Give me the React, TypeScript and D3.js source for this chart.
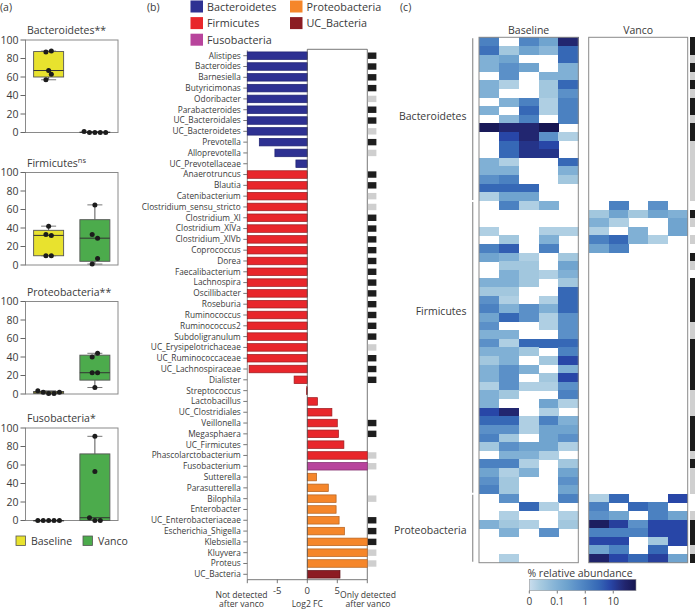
import React, { useEffect } from 'react';
import * as d3 from 'd3';

const FONT = "'Open Sans', 'DejaVu Sans', sans-serif";
const TXT = '#3a3a3a';

// ---------- Panel (a) data ----------
const BOX_PHYLA = ['Bacteroidetes', 'Firmicutes', 'Proteobacteria', 'Fusobacteria'];
const BOX_SIG = ['**', 'ns', '**', '*'];
const GROUPS_A = ['Baseline', 'Vanco'];
const BASELINE_PCT = [[87, 88, 67, 63, 57], [42, 33, 32, 10, 10], [3.5, 2, 0.5, 0.5, 2], [0, 0, 0, 0, 0]];
const VANCO_PCT = [[1, 0, 0, 0, 0], [65, 33, 29, 7, 1], [44, 40, 23, 23, 7], [91, 53, 3, 0, 0]];
const BASELINE_JITTER = [[-0.5, 0.5, 0, 0.5, -0.5], [0, -0.5, 0.5, -0.5, 0.5], [-2, -1, 0, 1, 2], [-2, -1, 0, 1, 2]];
const VANCO_JITTER = [[-2, -1, 0, 1, 2], [0, -0.5, 0.5, 0.5, -0.5], [0.5, -0.5, -0.5, 0.5, 0], [0, 0, -1, 0, 1]];
const Y_TICKS_A = [0, 20, 40, 60, 80, 100];
const GROUP_COLORS = ['#e8e22e', '#4cab4c'];

// ---------- Panel (b) data ----------
const GENERA = ['Alistipes', 'Bacteroides', 'Barnesiella', 'Butyricimonas', 'Odoribacter', 'Parabacteroides',
  'UC_Bacteroidales', 'UC_Bacteroidetes', 'Prevotella', 'Alloprevotella', 'UC_Prevotellaceae',
  'Anaerotruncus', 'Blautia', 'Catenibacterium', 'Clostridium_sensu_stricto', 'Clostridium_XI',
  'Clostridium_XIVa', 'Clostridium_XIVb', 'Coprococcus', 'Dorea', 'Faecalibacterium', 'Lachnospira',
  'Oscillibacter', 'Roseburia', 'Ruminococcus', 'Ruminococcus2', 'Subdoligranulum',
  'UC_Erysipelotrichaceae', 'UC_Ruminococcaceae', 'UC_Lachnospiraceae', 'Dialister', 'Streptococcus',
  'Lactobacillus', 'UC_Clostridiales', 'Veillonella', 'Megasphaera', 'UC_Firmicutes',
  'Phascolarctobacterium', 'Fusobacterium', 'Sutterella', 'Parasutterella', 'Bilophila', 'Enterobacter',
  'UC_Enterobacteriaceae', 'Escherichia_Shigella', 'Klebsiella', 'Kluyvera', 'Proteus', 'UC_Bacteria'];
const LOG2FC = [-10, -10, -10, -10, -10, -10, -10, -10, -8, -5.4, -1.9,
  -10, -10, -10, -10, -10, -10, -10, -10, -10, -10, -10, -10, -10, -10, -10, -10, -10, -10, -9.7, -2.2, -0.15,
  1.7, 4.1, 5.0, 5.2, 6.1, 10, 10, 1.55, 3.5, 4.8, 4.8, 5.3, 6.2, 10, 10, 10, 5.45];
const PHYLUM_SIZES: [string, number][] = [['Bacteroidetes', 11], ['Firmicutes', 27], ['Fusobacteria', 1], ['Proteobacteria', 9], ['UC_Bacteria', 1]];
const DETECT_FLAGS = 'bbbbgbbgbg-bbggbbbbbbbbbbbbgbbb---bb-gg--g-bbbgg-'.split('');
const PHYLUM_LEGEND = ['Bacteroidetes', 'Firmicutes', 'Fusobacteria', 'Proteobacteria', 'UC_Bacteria'];
const PHYLUM_FILL: Record<string, string> = {
  Bacteroidetes: '#2e3192', Firmicutes: '#e8262b', Fusobacteria: '#b8449c', Proteobacteria: '#f5862a', UC_Bacteria: '#8c1c22',
};
const PHYLUM_STROKE: Record<string, string> = {
  Bacteroidetes: '#1f2270', Firmicutes: '#9a1a1e', Fusobacteria: '#7e2a6a', Proteobacteria: '#b2601e', UC_Bacteria: '#5c1014',
};
const X_TICKS_B = [-10, -5, 0, 5, 10];
const X_LABELS_B = ['-5', '0', '5'];

// ---------- Panel (c) data ----------
const HEAT_COLS = ['1', '2', '3', '4', '5'];
const HEAT_GROUPS: [string, number][] = [['Bacteroidetes', 19], ['Firmicutes', 34], ['Proteobacteria', 8]];
const HEAT_BASELINE = [
  [1, 0, 0.8, 0.2, 25], [2, 0.03, 0.2, 0.07, 3], [0.1, 0.2, 0, 0, 3], [0.1, 0.5, 0.2, 0, 0.1],
  [0, 0.5, 0, 0.1, 0.1], [0.1, 0.02, 0, 0.03, 3], [0.1, 0, 0, 0.03, 0.5], [0, 0.1, 1, 0.02, 1],
  [0.1, 0, 3, 0.02, 1], [0, 0.07, 1, 0, 1], [50, 25, 25, 60, 0], [0, 8, 25, 0.5, 0.02],
  [0, 3, 15, 8, 0], [0, 3, 15, 15, 0], [0.1, 0.02, 0, 0, 3], [0.1, 0.1, 0, 0, 0.1],
  [0.5, 1, 0, 0, 0.03], [3, 3, 3, 0, 0], [0.02, 0.2, 0.2, 0, 0],
  [0, 1, 0.02, 0.1, 0], [0, 0, 0, 0, 0], [0, 0, 0, 0, 0], [0.02, 0, 0, 0.02, 0.02],
  [0, 0.03, 0, 0.1, 0], [1, 4, 0, 1, 0], [0.2, 0.1, 0.02, 0, 0.03], [0, 0.03, 0.03, 0, 0.2],
  [0, 0.1, 0.03, 0.02, 0.1], [0.1, 0.1, 0.03, 0, 0.03], [0.03, 0.03, 0, 0, 3], [0.5, 0.02, 0, 0.02, 3],
  [1, 0.1, 0.5, 0.1, 3], [0.2, 3, 0.5, 0.02, 0.5], [0.5, 0, 0, 0.02, 0.5], [0.1, 0.1, 0, 0, 0.5],
  [0.5, 0.02, 3, 3, 3], [0.1, 0.1, 0.03, 0, 1], [0.03, 0.1, 0, 0.03, 8], [0.1, 0.5, 0.1, 0, 0.1],
  [0.1, 0.5, 0, 0.03, 8], [0.02, 0.5, 0.02, 0.02, 0.5], [0.1, 0.03, 0, 0, 1], [0.1, 0, 0, 0.2, 0.02],
  [8, 25, 0, 0.02, 0], [3, 3, 0.02, 1, 0.1], [0.5, 0.5, 0.02, 0.2, 0.2], [1, 0.03, 0, 0.2, 0.5],
  [0.03, 0.5, 0.2, 0.2, 0.02], [0, 0.1, 0.1, 0.02, 0], [1, 1, 0.02, 0, 0.03], [0.2, 0.02, 0.1, 0, 0.2],
  [0.5, 0.03, 0, 0, 0.5], [1, 0.03, 0, 0, 0.2],
  [0, 0.5, 0, 0, 1], [0, 0, 3, 0.02, 0], [0, 0.02, 0, 0, 0.02], [0.1, 0.03, 0.02, 0, 0.03],
  [0, 0.1, 0, 0.5, 0], [0, 0, 0, 0, 0], [0, 0, 0, 0, 0], [0, 0.02, 0, 0, 0],
];
const HEAT_VANCO = [
  [0, 0, 0, 0, 0], [0, 0, 0, 0, 0], [0, 0, 0, 0, 0], [0, 0, 0, 0, 0], [0, 0, 0, 0, 0],
  [0, 0, 0, 0, 0], [0, 0, 0, 0, 0], [0, 0, 0, 0, 0], [0, 0, 0, 0, 0], [0, 0, 0, 0, 0],
  [0, 0, 0, 0, 0], [0, 0, 0, 0, 0], [0, 0, 0, 0, 0], [0, 0, 0, 0, 0], [0, 0, 0, 0, 0],
  [0, 0, 0, 0, 0], [0, 0, 0, 0, 0], [0, 0, 0, 0, 0], [0, 0, 0, 0, 0],
  [0, 1, 0, 0.5, 0], [0.03, 0.2, 0.03, 0.2, 0.1], [0.1, 0.02, 0, 0, 0.2], [0.02, 0, 0.1, 0, 0.2],
  [1, 3, 0.1, 0.02, 0], [0.2, 1, 0, 0, 0],
  [0, 0, 0, 0, 0], [0, 0, 0, 0, 0], [0, 0, 0, 0, 0], [0, 0, 0, 0, 0], [0, 0, 0, 0, 0],
  [0, 0, 0, 0, 0], [0, 0, 0, 0, 0], [0, 0, 0, 0, 0], [0, 0, 0, 0, 0], [0, 0, 0, 0, 0],
  [0, 0, 0, 0, 0], [0, 0, 0, 0, 0], [0, 0, 0, 0, 0], [0, 0, 0, 0, 0], [0, 0, 0, 0, 0],
  [0, 0, 0, 0, 0], [0, 0, 0, 0, 0], [0, 0, 0, 0, 0], [0, 0, 0, 0, 0], [0, 0, 0, 0, 0],
  [0, 0, 0, 0, 0], [0, 0, 0, 0, 0], [0, 0, 0, 0, 0], [0, 0, 0, 0, 0], [0, 0, 0, 0, 0],
  [0, 0, 0, 0, 0], [0, 0, 0, 0, 0], [0, 0, 0, 0, 0],
  [0.02, 3, 0, 0, 8], [1, 0, 3, 1, 0], [0.5, 0.2, 0, 1, 0.2], [40, 10, 0.5, 8, 8],
  [1, 1, 1, 8, 8], [8, 8, 0, 0.03, 8], [0.2, 1, 0, 3, 0], [30, 8, 3, 10, 0.2],
];
const HEAT_FLAGS = ('bbgbgbgbbgbb' + 'ggggggg' + '-bg-g-bg-' + 'bbbbb' + 'gg' + 'bbbbbb' + 'ggg' + 'bbbb' + 'g' + 'b' + 'ggg' + '--' + 'g' + 'bbb' + 'g' + 'b').split('');
const CBAR_TICKS = [0.01, 0.1, 1, 10];
const CBAR_LABELS = ['0', '0.1', '1', '10'];

// colour scale for abundance
const logT = d3.scaleLog().domain([0.01, 65]).range([0, 1]).clamp(true);
const ramp = d3.scaleLinear<string>()
  .domain([0, 0.1, 0.26, 0.35, 0.45, 0.53, 0.65, 0.76, 0.89, 1])
  .range(['#c9dded', '#a8cbe0', '#80b0d5', '#6ea3ce', '#5a8fc8', '#4a80c0', '#3668b6', '#2846a8', '#222670', '#151550'])
  .interpolate(d3.interpolateRgb);
const heatColor = (v: number) => ramp(logT(v));

function prismQuantile(vals: number[], p: number) {
  const s = [...vals].sort((a, b) => a - b);
  const n = s.length;
  let pos = (n + 1) * p;
  pos = Math.max(1, Math.min(n, pos));
  const lo = Math.floor(pos), hi = Math.ceil(pos);
  return s[lo - 1] + (pos - lo) * (s[hi - 1] - s[lo - 1]);
}

function BoxPanel({ idx, top }: { idx: number; top: number }) {
  const left = 25.5, right = 118, h = 92.5;
  const x = d3.scalePoint<string>().domain(GROUPS_A).range([left, right]).padding(0.5);
  const y = d3.scaleLinear().domain([0, 100]).range([top + h, top]);
  const series = [BASELINE_PCT[idx], VANCO_PCT[idx]];
  const jit = [BASELINE_JITTER[idx], VANCO_JITTER[idx]];
  const boxHalf = 15, capHalf = 7.5, dotStep = 5.4;
  return (
    <g>
      <text x={left + 1.5} y={top - 6} fontSize={10.5} fill={TXT}>
        {BOX_PHYLA[idx]}
        {BOX_SIG[idx] === 'ns'
          ? <tspan dy={-4} fontSize={7.5}>ns</tspan>
          : BOX_SIG[idx]}
      </text>
      <rect x={left} y={top} width={right - left} height={h} fill="none" stroke="#8a8a8a" strokeWidth={1} />
      {Y_TICKS_A.map(t => (
        <g key={t}>
          <line x1={left - 5} x2={left} y1={y(t)} y2={y(t)} stroke="#666" />
          <text x={left - 7} y={y(t)} dy="0.35em" textAnchor="end" fontSize={10.5} fill={TXT}>{t}</text>
        </g>
      ))}
      {series.map((vals, gi) => {
        const cx = x(GROUPS_A[gi])!;
        const q1 = prismQuantile(vals, 0.25), med = prismQuantile(vals, 0.5), q3 = prismQuantile(vals, 0.75);
        const mn = d3.min(vals)!, mx = d3.max(vals)!;
        return (
          <g key={gi}>
            <line x1={cx} x2={cx} y1={y(mx)} y2={y(q3)} stroke="#555" />
            <line x1={cx} x2={cx} y1={y(q1)} y2={y(mn)} stroke="#555" />
            <line x1={cx - capHalf} x2={cx + capHalf} y1={y(mx)} y2={y(mx)} stroke="#777" />
            <line x1={cx - capHalf} x2={cx + capHalf} y1={y(mn)} y2={y(mn)} stroke="#777" />
            <rect x={cx - boxHalf} y={y(q3)} width={boxHalf * 2} height={Math.max(0.5, y(q1) - y(q3))}
              fill={GROUP_COLORS[gi]} stroke="#555" strokeWidth={0.9} />
            <line x1={cx - boxHalf} x2={cx + boxHalf} y1={y(med)} y2={y(med)} stroke="#333" strokeWidth={1} />
            {vals.map((v, i) => (
              <circle key={i} cx={cx + jit[gi][i] * dotStep} cy={y(v)} r={2.5} fill="#1c1c1c" />
            ))}
          </g>
        );
      })}
    </g>
  );
}

function PanelA() {
  const tops = [40, 172.5, 301.5, 428];
  return (
    <g>
      <text x={0} y={11} fontSize={10.5} fill={TXT}>(a)</text>
      {BOX_PHYLA.map((_, i) => <BoxPanel key={i} idx={i} top={tops[i]} />)}
      {GROUPS_A.map((g, i) => (
        <g key={g} transform={`translate(${16 + i * 67},536)`}>
          <rect x={0} y={0} width={9.5} height={9.5} fill={GROUP_COLORS[i]} stroke="#555" strokeWidth={0.8} />
          <text x={15} y={5} dy="0.35em" fontSize={10.5} fill={TXT}>{g}</text>
        </g>
      ))}
    </g>
  );
}

function PanelB() {
  const phyla: string[] = [];
  PHYLUM_SIZES.forEach(([p, n]) => { for (let i = 0; i < n; i++) phyla.push(p); });
  const x = d3.scaleLinear().domain([-10, 10]).range([247.3, 367.3]);
  const y = d3.scaleBand<string>().domain(GENERA).range([50.3, 579.7]).paddingInner(0.3).paddingOuter(0.15);
  const bottom = 579.7, topY = 50.3;
  return (
    <g>
      <text x={147} y={11} fontSize={10.5} fill={TXT}>(b)</text>
      {PHYLUM_LEGEND.map((p, i) => {
        const col = i < 3 ? 0 : 1;
        const row = i < 3 ? i : i - 3;
        return (
          <g key={p} transform={`translate(${190.5 + col * 99.5},${0.5 + row * 16.6})`}>
            <rect width={12.5} height={12} fill={PHYLUM_FILL[p]} />
            <text x={16.5} y={6.3} dy="0.35em" fontSize={10.8} fill={TXT}>{p}</text>
          </g>
        );
      })}
      <line x1={x(0)} x2={x(10)} y1={topY - 1} y2={topY - 1} stroke="#555" strokeWidth={0.8} />
      <line x1={x(10)} x2={x(10)} y1={topY - 1} y2={bottom} stroke="#555" strokeWidth={0.8} />
      <line x1={x(-10)} x2={x(-10)} y1={topY} y2={bottom} stroke="#777" strokeWidth={0.8} />
      <line x1={x(-10)} x2={x(10)} y1={bottom} y2={bottom} stroke="#555" strokeWidth={0.8} />
      {GENERA.map((g, i) => {
        const v = LOG2FC[i];
        const yy = y(g)!;
        const bw = y.bandwidth();
        const x0 = Math.min(x(0), x(v)), x1 = Math.max(x(0), x(v));
        const flag = DETECT_FLAGS[i];
        return (
          <g key={g}>
            <line x1={x(-10) - 4} x2={x(-10)} y1={yy + bw / 2} y2={yy + bw / 2} stroke="#777" />
            <text x={x(-10) - 6.5} y={yy + bw / 2} dy="0.35em" textAnchor="end" fontSize={8.3} fill={TXT}>{g}</text>
            <rect x={x0} y={yy} width={Math.max(0.6, x1 - x0)} height={bw}
              fill={PHYLUM_FILL[phyla[i]]} stroke={PHYLUM_STROKE[phyla[i]]} strokeWidth={0.7} />
            {flag !== '-' && (
              <rect x={x(10) + 0.6} y={yy + bw / 2 - 3.2} width={8.5} height={6.4}
                fill={flag === 'b' ? '#1e1e1e' : '#cfcfcf'} />
            )}
          </g>
        );
      })}
      <line x1={x(0)} x2={x(0)} y1={topY - 1} y2={bottom} stroke="#555" strokeWidth={0.8} />
      {X_TICKS_B.map(t => (
        <line key={t} x1={x(t)} x2={x(t)} y1={bottom} y2={bottom + 3.5} stroke="#555" strokeWidth={0.8} />
      ))}
      {X_LABELS_B.map(t => (
        <text key={t} x={x(+t)} y={591} dy="0.35em" textAnchor="middle" fontSize={9.5} fill={TXT}>{t}</text>
      ))}
      <text x={x(0)} y={604} dy="0.35em" textAnchor="middle" fontSize={8.6} fill={TXT}>Log2 FC</text>
      <text x={241.5} y={597.5} textAnchor="middle" fontSize={8.6} fill={TXT}>
        <tspan x={241.5}>Not detected</tspan>
        <tspan x={241.5} dy={9.5}>after vanco</tspan>
      </text>
      <text x={368} y={597.5} textAnchor="middle" fontSize={8.6} fill={TXT}>
        <tspan x={368}>Only detected</tspan>
        <tspan x={368} dy={9.5}>after vanco</tspan>
      </text>
    </g>
  );
}

function PanelC() {
  const nRows = HEAT_BASELINE.length;
  const rows = d3.range(nRows).map(String);
  const y = d3.scaleBand<string>().domain(rows).range([37.3, 562.7]);
  const xb = d3.scaleBand<string>().domain(HEAT_COLS).range([479, 578.3]);
  const xv = d3.scaleBand<string>().domain(HEAT_COLS).range([588.7, 687.7]);
  const cbx = d3.scaleLog().domain([0.01, 65]).range([529.3, 636]);
  const stops = d3.range(0, 1.0001, 0.05);
  const labelY = [116, 311, 530];
  let start = 0;
  const groupSpans = HEAT_GROUPS.map(([name, n]) => {
    const s = start; start += n;
    return { name, s, e: start - 1 };
  });
  const panels: [number[][], d3.ScaleBand<string>][] = [[HEAT_BASELINE, xb], [HEAT_VANCO, xv]];
  return (
    <g>
      <text x={400} y={11} fontSize={10.5} fill={TXT}>(c)</text>
      <text x={(479 + 578.3) / 2} y={30} dy="0.35em" textAnchor="middle" fontSize={10.5} fill={TXT}>Baseline</text>
      <text x={(588.7 + 687.7) / 2} y={30} dy="0.35em" textAnchor="middle" fontSize={10.5} fill={TXT}>Vanco</text>
      {panels.map(([data, xs], pi) => (
        <g key={pi} shapeRendering="crispEdges">
          {data.map((row, r) => row.map((v, c) => v > 0 ? (
            <rect key={`${r}-${c}`} x={xs(HEAT_COLS[c])} y={y(String(r))} width={xs.bandwidth() + 0.3}
              height={y.bandwidth() + 0.3} fill={heatColor(v)} />
          ) : null))}
        </g>
      ))}
      <rect x={479} y={37.3} width={578.3 - 479} height={562.7 - 37.3} fill="none" stroke="#8a8a8a" strokeWidth={1} />
      <rect x={588.7} y={37.3} width={687.7 - 588.7} height={562.7 - 37.3} fill="none" stroke="#8a8a8a" strokeWidth={1} />
      {groupSpans.map((g, i) => (
        <g key={g.name}>
          <line x1={472.7} x2={472.7} y1={y(String(g.s))! + 1} y2={y(String(g.e))! + y.bandwidth() - 1}
            stroke="#9a9a9a" strokeWidth={1.3} />
          <text x={466.5} y={labelY[i]} dy="0.35em" textAnchor="end" fontSize={10.5} fill={TXT}>{g.name}</text>
        </g>
      ))}
      <g shapeRendering="crispEdges">
        {HEAT_FLAGS.map((f, r) => f === '-' ? null : (
          <rect key={r} x={690} y={y(String(r))} width={6} height={y.bandwidth() + 0.3}
            fill={f === 'b' ? '#1c1c1c' : '#cfcfcf'} />
        ))}
      </g>
      <defs>
        <linearGradient id="cbar" x1="0" x2="1" y1="0" y2="0">
          {stops.map(s => (
            <stop key={s} offset={s} stopColor={ramp(s)} />
          ))}
        </linearGradient>
      </defs>
      <text x={580} y={573} dy="0.35em" textAnchor="middle" fontSize={10.5} fill={TXT}>% relative abundance</text>
      <rect x={529.3} y={579.3} width={636 - 529.3} height={11.4} fill="url(#cbar)" stroke="#999" strokeWidth={0.6} />
      {CBAR_TICKS.map((t, i) => (
        <g key={t}>
          <line x1={cbx(t)} x2={cbx(t)} y1={590.7} y2={593.5} stroke="#777" />
          <text x={cbx(t)} y={601.5} dy="0.35em" textAnchor="middle" fontSize={10} fill={TXT}>{CBAR_LABELS[i]}</text>
        </g>
      ))}
    </g>
  );
}

export default function App() {
  useEffect(() => {
    document.body.style.margin = '0';
  }, []);
  return (
    <svg width={695} height={610} style={{ position: 'absolute', left: 0, top: 0, fontFamily: FONT, background: '#fff' }}
      fontFamily={FONT}>
      <rect width={695} height={610} fill="#fff" />
      <PanelA />
      <PanelB />
      <PanelC />
    </svg>
  );
}
